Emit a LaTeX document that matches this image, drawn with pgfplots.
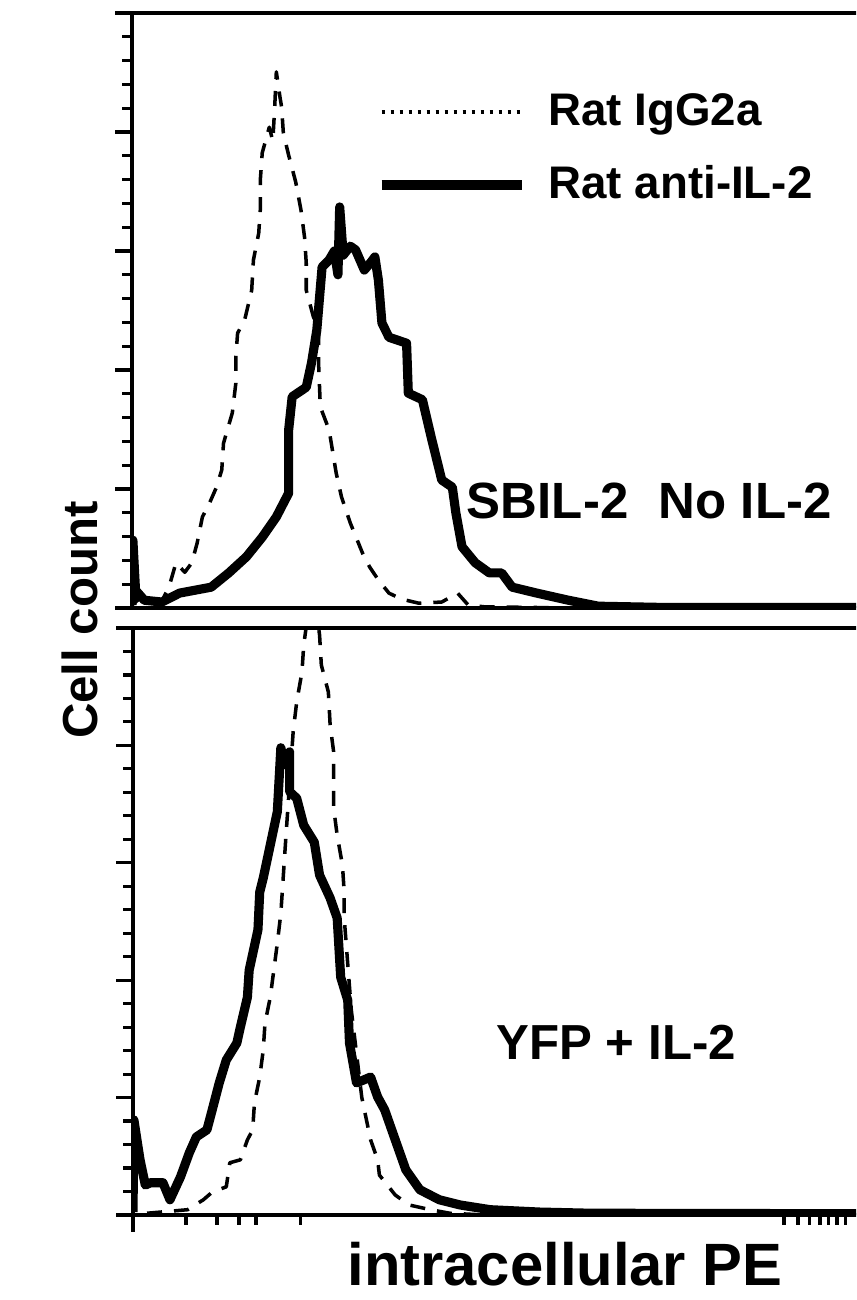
\documentclass[border=0pt]{standalone}
\usepackage{fontspec}
\setmainfont{Liberation Sans}
\usepackage{pgfplots}
\pgfplotsset{compat=1.18}

% x in decades of PE intensity, y in % of panel maximum
\pgfplotsset{
  facs/.style={
    scale only axis, width=7.744cm, xmin=0, xmax=4.4, ymin=0, ymax=100,
    anchor=south west, axis line style={line width=1.2pt},
    tick align=outside, tick pos=left,
    every tick/.style={black, line width=0.9pt},
    major tick length=1.7mm, minor tick length=1.0mm,
    ytick={0,20,...,100}, minor y tick num=4,
    xtick={0},
    minor xtick={0.301,0.477,0.602,0.699,0.954,
                 3.699,3.778,3.845,3.903,3.954,4.0,4.05},
    xticklabels={}, yticklabels={},
  },
  igg/.style={black, line width=1.0pt, dash pattern=on 1.5mm off 1.2mm, line join=round},
  anti/.style={black, line width=2.6pt, line join=round},
}

\begin{document}
\begin{tikzpicture}
\useasboundingbox (0,0) rectangle (8.56,13);
\clip (0,0) rectangle (8.56,13);

% upper panel: SBIL-2, no IL-2
\begin{axis}[facs, at={(1.32cm,6.92cm)}, height=5.95cm,
  xtick=\empty, minor xtick={},
  legend style={draw=none, fill=none, at={(0.315,0.878)}, anchor=north west,
    font=\fontsize{13}{14}\selectfont\bfseries, column sep=1.5mm, row sep=2.1mm,
    inner sep=0pt},
  legend cell align=left,
  legend image code/.code={\draw[#1] (0mm,0mm) -- (14mm,0mm);},
]
\addlegendimage{black, line width=1pt, dash pattern=on 0.35mm off 0.55mm}
\addlegendentry{Rat IgG2a}
\addlegendimage{black, line width=2.8pt}
\addlegendentry{Rat anti-IL-2}
\addplot[igg, forget plot] coordinates {
(0.00,0.5) (0.04,1.5) (0.10,1.8) (0.17,1.2) (0.21,3.5) (0.25,7.6) (0.30,6.0) (0.34,7.6)
(0.37,10.9) (0.40,15.3) (0.44,17.6) (0.48,20.3) (0.51,23.2) (0.52,27.7) (0.57,32.8)
(0.59,37.8) (0.59,42.2) (0.60,46.2) (0.64,48.4) (0.68,53.4) (0.69,58.5) (0.72,63.0)
(0.73,67.4) (0.73,72.3) (0.74,76.5) (0.78,80.8) (0.80,78.5) (0.81,83.7) (0.82,90.1)
(0.84,86.0) (0.85,84.2) (0.86,79.8) (0.89,76.1) (0.93,71.6) (0.96,66.9) (0.98,62.4)
(0.99,58.0) (0.99,53.4) (1.03,49.0) (1.06,46.7) (1.06,41.2) (1.07,33.8) (1.12,29.9)
(1.16,22.7) (1.19,18.7) (1.24,14.3) (1.31,9.2) (1.35,6.9) (1.40,4.7) (1.46,2.5)
(1.53,1.5) (1.63,0.8) (1.76,1.0) (1.85,2.5) (1.91,0.5) (2.00,0.2) (2.50,0.0) (4.40,0.0)};
\addplot[anti, forget plot] coordinates {
(0.00,0.5) (0.005,11.4) (0.02,3.0) (0.07,1.3) (0.17,1.0) (0.27,2.5) (0.45,3.5) (0.55,5.9)
(0.65,8.6) (0.74,11.9) (0.82,15.3) (0.89,19.3) (0.89,29.9) (0.91,35.5) (0.99,37.1)
(1.02,41.2) (1.05,46.7) (1.08,57.3) (1.12,58.5) (1.15,60.0) (1.17,56.0) (1.18,67.4)
(1.20,59.3) (1.24,60.8) (1.27,60.2) (1.32,56.8) (1.36,58.2) (1.38,59.0) (1.40,55.1)
(1.42,47.9) (1.46,45.5) (1.56,44.5) (1.57,36.1) (1.65,35.0) (1.70,28.7) (1.76,21.5)
(1.82,20.3) (1.84,16.0) (1.875,10.3) (1.95,7.6) (2.03,5.9) (2.10,5.9) (2.16,3.5)
(2.30,2.5) (2.48,1.3) (2.65,0.3) (3.00,0.1) (4.40,0.1)};
\node[font=\fontsize{14.5}{16}\selectfont\bfseries] at (rel axis cs:0.668,0.18) {SBIL-2\hspace{0.6em}No IL-2};
\end{axis}

% lower panel: YFP + IL-2
\begin{axis}[facs, at={(1.33cm,0.85cm)}, height=5.87cm]
\addplot[igg] coordinates {
(0.08,0.3) (0.31,0.9) (0.40,2.6) (0.45,3.9) (0.53,4.8) (0.55,8.9) (0.61,9.4) (0.65,12.8)
(0.68,14.5) (0.69,19.1) (0.72,23.5) (0.74,28.1) (0.75,32.7) (0.78,37.1) (0.80,41.7)
(0.82,46.3) (0.84,51.4) (0.87,65.0) (0.91,82.3) (0.93,87.4) (0.96,92.5) (0.97,97.1)
(1.02,108) (1.06,98.8) (1.07,93.7) (1.11,89.1) (1.12,83.5) (1.14,78.9) (1.14,72.1)
(1.14,69.3) (1.16,64.7) (1.19,59.6) (1.20,55.0) (1.20,50.6) (1.24,35.0) (1.30,20.0)
(1.35,12.8) (1.39,9.4) (1.40,6.8) (1.49,3.4) (1.57,1.7) (1.69,0.9) (1.80,0.3) (2.00,0.0)};
\addplot[anti] coordinates {
(0.00,0.5) (0.005,16.2) (0.04,9.4) (0.07,5.1) (0.10,5.5) (0.17,5.5) (0.21,2.6) (0.27,6.5)
(0.32,10.6) (0.36,13.3) (0.42,14.5) (0.45,17.9) (0.49,22.5) (0.53,26.4) (0.59,29.3)
(0.61,32.0) (0.65,37.1) (0.66,41.7) (0.71,48.6) (0.72,55.0) (0.74,57.4) (0.82,68.7)
(0.84,79.6) (0.86,76.7) (0.89,78.9) (0.89,72.1) (0.93,71.0) (0.97,66.4) (1.03,63.5)
(1.06,57.9) (1.12,54.0) (1.16,50.6) (1.18,40.5) (1.22,36.6) (1.23,29.3) (1.27,22.5)
(1.35,23.5) (1.39,20.1) (1.43,17.9) (1.49,12.8) (1.55,7.7) (1.63,4.3) (1.74,2.6)
(1.86,1.7) (2.03,0.9) (2.31,0.5) (2.60,0.3) (4.40,0.2)};
\node[font=\fontsize{14}{16}\selectfont\bfseries] at (rel axis cs:0.624,0.295) {YFP + IL-2};
\end{axis}

\node[rotate=90, font=\fontsize{14}{16}\selectfont\bfseries] at (0.80,6.8) {Cell count};
\node[font=\fontsize{17}{19}\selectfont\bfseries] at (5.65,0.36) {intracellular PE};
\end{tikzpicture}
\end{document}
